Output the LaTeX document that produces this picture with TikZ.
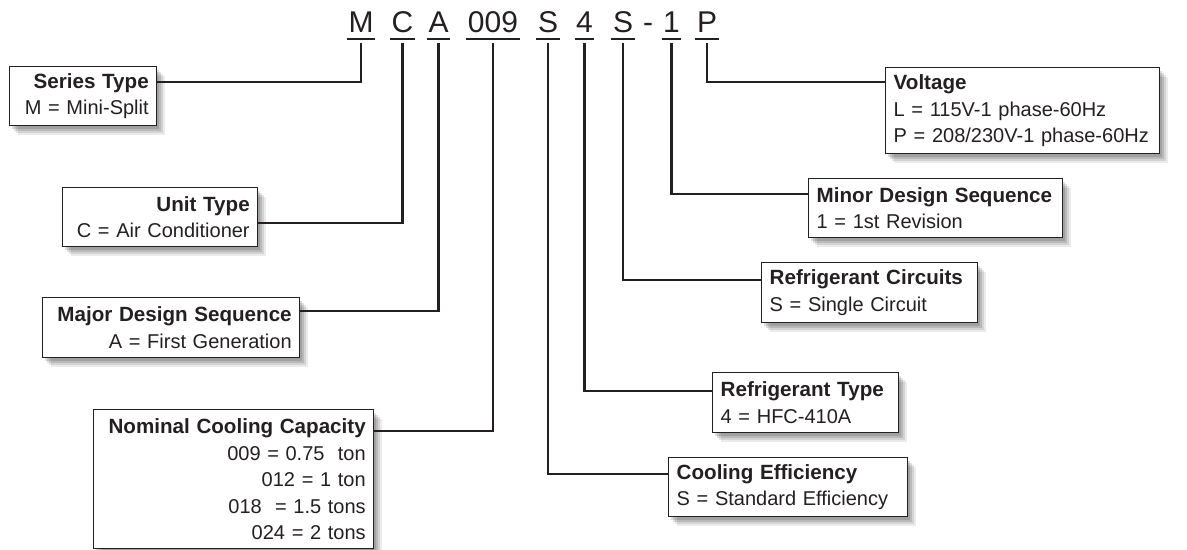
\documentclass[tikz,border=0pt]{standalone}
\usepackage{fontspec}
\setmainfont{Liberation Sans}
\usetikzlibrary{shadows}
\definecolor{InkClr}{rgb}{0.14,0.12,0.13}
\newcommand{\boxhead}[1]{{\fontsize{10.3}{13.25}\selectfont\bfseries #1}}
\hyphenpenalty=10000
\exhyphenpenalty=10000

\begin{document}
\begin{tikzpicture}[x=0.5pt,y=-0.5pt,
  code/.style={anchor=base,inner xsep=0.6pt,text=InkClr,font=\fontsize{15}{18}\selectfont},
  uline/.style={line width=0.8pt,color=InkClr},
  link/.style={line width=1.1pt,color=InkClr},
  softshadow/.style={
    drop shadow={shadow xshift=1pt,shadow yshift=-1.5pt,fill=black,opacity=.13},
    drop shadow={shadow xshift=2pt,shadow yshift=-2.5pt,fill=black,opacity=.12},
    drop shadow={shadow xshift=3pt,shadow yshift=-3.5pt,fill=black,opacity=.1},
    drop shadow={shadow xshift=4pt,shadow yshift=-4.5pt,fill=black,opacity=.08}},
  infobox/.style={softshadow,draw=InkClr,line width=0.7pt,fill=white,anchor=north west,
    inner xsep=4pt,inner ysep=0pt,text=InkClr,font=\fontsize{10}{13.25}\selectfont},
  rbox/.style={infobox,align=right},
  lbox/.style={infobox,align=left}]
\useasboundingbox (0,0) rectangle (1187,550);

% model code
\node[code] (cM) at (361,33) {M};
\node[code] (cC) at (402.5,33) {C};
\node[code] (cA) at (438.5,33) {A};
\node[code] (cCap) at (493,33) {009};
\node[code] (cEff) at (548,33) {S};
\node[code] (cRef) at (584.5,33) {4};
\node[code] (cCir) at (623,33) {S};
\node[code] (cDash) at (648,33) {-};
\node[code] (cMin) at (671.5,33) {1};
\node[code] (cP) at (707,33) {P};
\foreach \c in {cM,cC,cA,cCap,cEff,cRef,cCir,cMin,cP}
  \draw[uline] ([yshift=-3pt]\c.base west) -- ([yshift=-3pt]\c.base east);

% boxes, left side
\node[rbox,text width=65.5pt,minimum height=29.5pt] (sType) at (9,66)
  {\boxhead{Series Type}\\M = Mini-Split};
\node[rbox,text width=89.5pt,minimum height=29.5pt] (uType) at (62,187)
  {\boxhead{Unit Type}\\C = Air Conditioner};
\node[rbox,text width=120.5pt,minimum height=30pt] (majDes) at (42,297)
  {\boxhead{Major Design Sequence}\\A = First Generation};
\node[rbox,text width=132pt,minimum height=69.5pt] (capac) at (93,409)
  {\boxhead{Nominal Cooling Capacity}\\009 = 0.75\ \ ton\\012 = 1 ton\\018\ \ = 1.5 tons\\024 = 2 tons};

% boxes, right side
\node[lbox,text width=129pt,minimum height=43pt] (volt) at (885,67)
  {\boxhead{Voltage}\\L = 115V-1 phase-60Hz\\P = 208/230V-1 phase-60Hz};
\node[lbox,text width=119pt,minimum height=29.5pt] (minDes) at (808,178)
  {\boxhead{Minor Design Sequence}\\1 = 1st Revision};
\node[lbox,text width=100pt,minimum height=30pt] (circ) at (761,262)
  {\boxhead{Refrigerant Circuits}\\S = Single Circuit};
\node[lbox,text width=85pt,minimum height=30pt] (refType) at (712,372)
  {\boxhead{Refrigerant Type}\\4 = HFC-410A};
\node[lbox,text width=111.5pt,minimum height=29.5pt] (effic) at (668,457)
  {\boxhead{Cooling Efficiency}\\S = Standard Efficiency};

% connectors
\draw[link] ([yshift=-5pt]cM.base) |- ([yshift=-8pt]sType.north east);
\draw[link] ([yshift=-5pt]cC.base) |- ([yshift=-18pt]uType.north east);
\draw[link] ([yshift=-5pt]cA.base) |- ([yshift=-7pt]majDes.north east);
\draw[link] ([yshift=-5pt]cCap.base) |- ([yshift=-11pt]capac.north east);
\draw[link] ([yshift=-5pt]cEff.base) |- ([yshift=-8.5pt]effic.north west);
\draw[link] ([yshift=-5pt]cRef.base) |- ([yshift=-9.5pt]refType.north west);
\draw[link] ([yshift=-5pt]cCir.base) |- ([yshift=-9pt]circ.north west);
\draw[link] ([yshift=-5pt]cMin.base) |- ([yshift=-8pt]minDes.north west);
\draw[link] ([yshift=-5pt]cP.base) |- ([yshift=-7.5pt]volt.north west);

\end{tikzpicture}
\end{document}
